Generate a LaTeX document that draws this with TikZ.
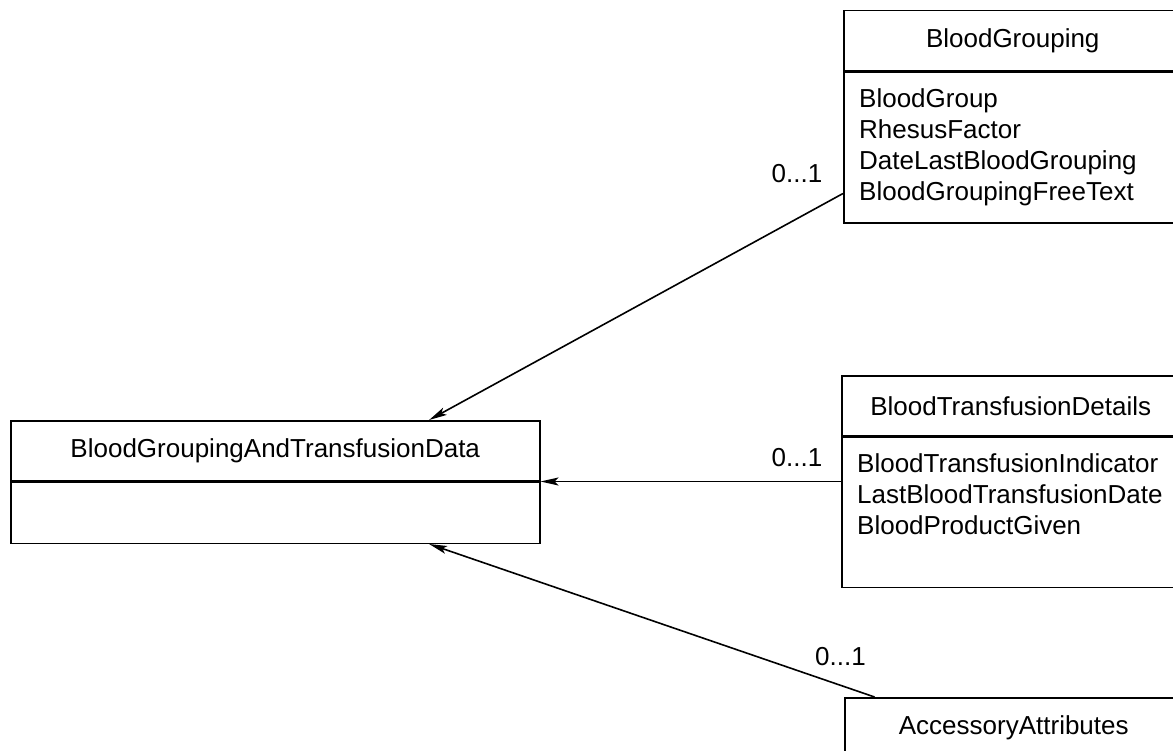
\documentclass[tikz,border=0pt]{standalone}
\usepackage{fontspec}
\setmainfont{Liberation Sans}
\usetikzlibrary{positioning,arrows.meta,calc}

\begin{document}
\begin{tikzpicture}[
    x=1pt, y=-1pt,
    >={Stealth[length=18pt,width=8pt,inset=4pt]},
    classhead/.style={draw,line width=1.5pt,minimum height=60pt,inner sep=0pt,anchor=north west,font={\fontsize{26}{31}\selectfont}},
    classbody/.style={draw,line width=1.5pt,inner sep=0pt},
    attrs/.style={anchor=north west,align=left,inner xsep=16pt,inner ysep=17pt,font={\fontsize{26}{31}\selectfont}},
    mult/.style={inner sep=0pt,font={\fontsize{26}{31}\selectfont}},
    assoc/.style={->,line width=1.6pt},
]

    \useasboundingbox (0,0) rectangle (1173,751);
    \clip (0,0) rectangle (1173,751);

    % BloodGrouping
    \node[classhead,minimum width=338pt] at (843,10) (bgHead) {BloodGrouping};
    \node[classbody,minimum width=338pt,minimum height=151pt,below=0pt of bgHead] (bgBody) {};
    \node[attrs] at (bgBody.north west) (bgAttr) {BloodGroup\\RhesusFactor\\DateLastBloodGrouping\\BloodGroupingFreeText};

    % BloodTransfusionDetails
    \node[classhead,minimum width=338pt] at (841,375) (tdHead) {BloodTransfusionDetails};
    \node[classbody,minimum width=338pt,minimum height=150pt,below=0pt of tdHead] (tdBody) {};
    \node[attrs] at (tdBody.north west) (tdAttr) {BloodTransfusionIndicator\\LastBloodTransfusionDate\\BloodProductGiven};

    % BloodGroupingAndTransfusionData
    \node[classhead,minimum width=529pt] at (10,420) (mainHead) {BloodGroupingAndTransfusionData};
    \node[classbody,minimum width=529pt,minimum height=61pt,below=0pt of mainHead] (mainBody) {};

    % AccessoryAttributes
    \node[classhead,minimum width=338pt] at (844,697) (aaHead) {AccessoryAttributes};
    \node[classbody,minimum width=338pt,minimum height=60pt,below=0pt of aaHead] (aaBody) {};

    % Arrows
    \draw[assoc] ($(bgBody.north west)!0.8!(bgBody.south west)$) -- node[mult,at start,anchor=south east,xshift=-20pt,yshift=10pt] {0...1} ($(mainHead.north west)!0.79!(mainHead.north east)$); % grouping to data
    \draw[assoc] (tdBody.west |- mainHead.south) -- node[mult,at start,anchor=south east,xshift=-18pt,yshift=14pt] {0...1} (mainHead.south east); % transfusion to data
    \draw[assoc] ($(aaHead.north west)!0.09!(aaHead.north east)$) -- node[mult,at start,anchor=south east,xshift=-8pt,yshift=30pt] {0...1} ($(mainBody.south west)!0.79!(mainBody.south east)$); % accessory to data

\end{tikzpicture}
\end{document}
